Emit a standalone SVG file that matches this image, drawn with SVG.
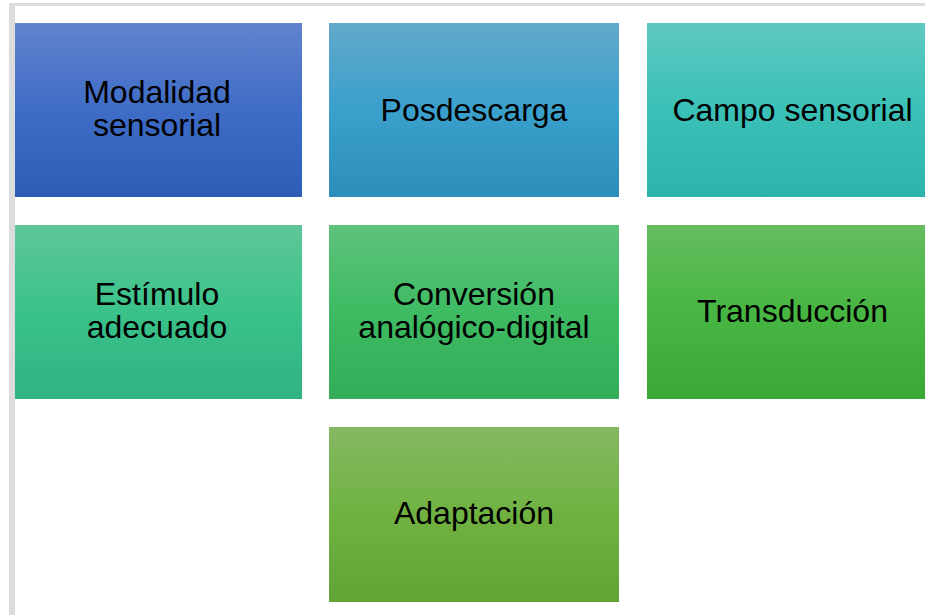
<svg xmlns="http://www.w3.org/2000/svg" width="925" height="615" viewBox="0 0 925 615">
<defs>
<linearGradient id="g1" x1="0" y1="0" x2="0" y2="1"><stop offset="0" stop-color="#6283ce"/><stop offset="0.5" stop-color="#3e6cc6"/><stop offset="1" stop-color="#2e5db6"/></linearGradient>
<linearGradient id="g2" x1="0" y1="0" x2="0" y2="1"><stop offset="0" stop-color="#62a9cb"/><stop offset="0.5" stop-color="#3aa0cc"/><stop offset="1" stop-color="#2e8dba"/></linearGradient>
<linearGradient id="g3" x1="0" y1="0" x2="0" y2="1"><stop offset="0" stop-color="#5fc9c1"/><stop offset="0.5" stop-color="#3ac0b7"/><stop offset="1" stop-color="#2db4ac"/></linearGradient>
<linearGradient id="g4" x1="0" y1="0" x2="0" y2="1"><stop offset="0" stop-color="#5fc699"/><stop offset="0.5" stop-color="#3ac28a"/><stop offset="1" stop-color="#31b283"/></linearGradient>
<linearGradient id="g5" x1="0" y1="0" x2="0" y2="1"><stop offset="0" stop-color="#5ec27a"/><stop offset="0.5" stop-color="#3ebb63"/><stop offset="1" stop-color="#32ac58"/></linearGradient>
<linearGradient id="g6" x1="0" y1="0" x2="0" y2="1"><stop offset="0" stop-color="#65bc60"/><stop offset="0.5" stop-color="#47b642"/><stop offset="1" stop-color="#3aa834"/></linearGradient>
<linearGradient id="g7" x1="0" y1="0" x2="0" y2="1"><stop offset="0" stop-color="#84b863"/><stop offset="0.5" stop-color="#70b242"/><stop offset="1" stop-color="#63a336"/></linearGradient>
</defs>
<style>
text{font-family:"Liberation Sans",Arial,sans-serif;font-size:32px;fill:#000;text-anchor:middle}
</style>
<rect x="0" y="0" width="925" height="615" fill="#ffffff"/>
<rect x="9" y="3" width="916" height="3" fill="#dcdcdc"/>
<rect x="9" y="3" width="6" height="612" fill="#dcdcdc"/>
<g id="connectors"/>
<g id="n1"><rect x="15" y="23" width="287" height="174" fill="url(#g1)"/><text x="157" y="102.7">Modalidad</text><text x="157" y="136">sensorial</text></g>
<g id="n2"><rect x="329" y="23" width="290" height="174" fill="url(#g2)"/><text x="474" y="120.7">Posdescarga</text></g>
<g id="n3"><rect x="647" y="23" width="291" height="174" fill="url(#g3)"/><text x="792.5" y="120.7">Campo sensorial</text></g>
<g id="n4"><rect x="15" y="225" width="287" height="174" fill="url(#g4)"/><text x="157" y="305">Estímulo</text><text x="157" y="338.3">adecuado</text></g>
<g id="n5"><rect x="329" y="225" width="290" height="174" fill="url(#g5)"/><text x="474" y="305">Conversión</text><text x="474" y="338.3">analógico-digital</text></g>
<g id="n6"><rect x="647" y="225" width="291" height="174" fill="url(#g6)"/><text x="792.5" y="321.7">Transducción</text></g>
<g id="n7"><rect x="329" y="427" width="290" height="175" fill="url(#g7)"/><text x="474" y="524">Adaptación</text></g>
</svg>
